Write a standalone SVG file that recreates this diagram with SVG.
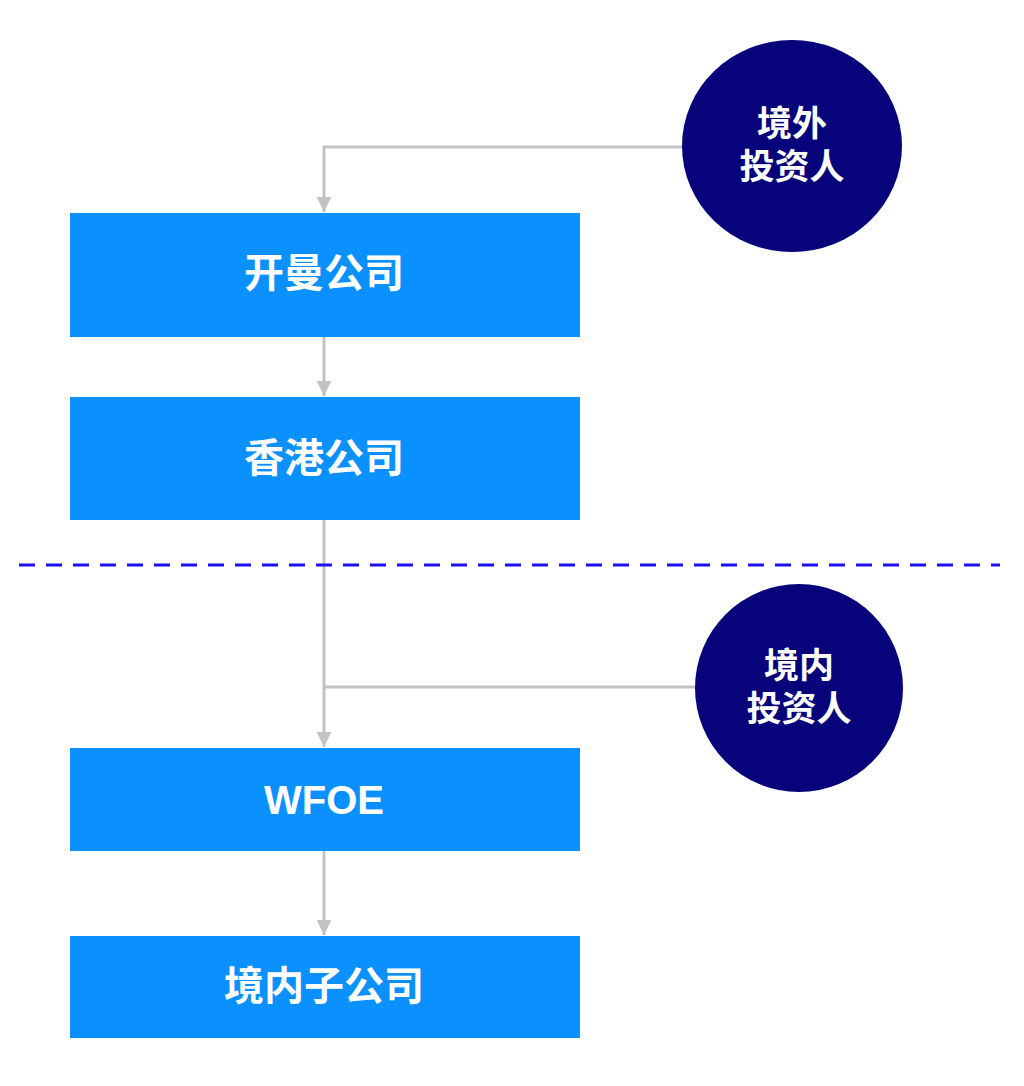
<svg xmlns="http://www.w3.org/2000/svg" width="1024" height="1086" viewBox="0 0 1024 1086">
<defs>
<style>
.box{fill:#0a91ff}
.circ{fill:#07037b}
.bt{font-family:"Liberation Sans","Noto Sans CJK SC",sans-serif;font-weight:bold;font-size:40px;fill:#fff;text-anchor:middle}
.ct{font-family:"Liberation Sans","Noto Sans CJK SC",sans-serif;font-weight:bold;font-size:35px;fill:#fff;text-anchor:middle}
.conn{fill:none;stroke:#c3c3c3;stroke-width:3}
</style>
<marker id="ah" viewBox="0 0 10 10" refX="10" refY="5" markerWidth="5" markerHeight="5" markerUnits="strokeWidth" orient="auto">
<path d="M0,0 L10,5 L0,10 z" fill="#c3c3c3"/>
</marker>
</defs>
<rect width="1024" height="1086" fill="#fff"/>
<g id="connectors">
<path class="conn" d="M684,147 H324 V212" marker-end="url(#ah)"/>
<path class="conn" d="M324,337 V396" marker-end="url(#ah)"/>
<path class="conn" d="M324,520 V747" marker-end="url(#ah)"/>
<path class="conn" d="M696,687 H324"/>
<path class="conn" d="M324,851 V935" marker-end="url(#ah)"/>
</g>
<line id="divider" x1="19" y1="565" x2="1000" y2="565" stroke="#1a10ee" stroke-width="3" stroke-dasharray="16 11"/>
<g id="n_offshore_investor">
<ellipse class="circ" cx="792" cy="146" rx="110" ry="106"/>
<text class="ct" x="792" y="136">境外</text>
<text class="ct" x="792" y="179">投资人</text>
</g>
<g id="n_cayman">
<rect class="box" x="70" y="213" width="510" height="124"/>
<text class="bt" x="324" y="287">开曼公司</text>
</g>
<g id="n_hk">
<rect class="box" x="70" y="397" width="510" height="123"/>
<text class="bt" x="324" y="472">香港公司</text>
</g>
<g id="n_onshore_investor">
<ellipse class="circ" cx="799" cy="688" rx="104" ry="104"/>
<text class="ct" x="799" y="678">境内</text>
<text class="ct" x="799" y="721">投资人</text>
</g>
<g id="n_wfoe">
<rect class="box" x="70" y="748" width="510" height="103"/>
<text class="bt" x="324" y="814">WFOE</text>
</g>
<g id="n_sub">
<rect class="box" x="70" y="936" width="510" height="102"/>
<text class="bt" x="324" y="1000">境内子公司</text>
</g>
</svg>
